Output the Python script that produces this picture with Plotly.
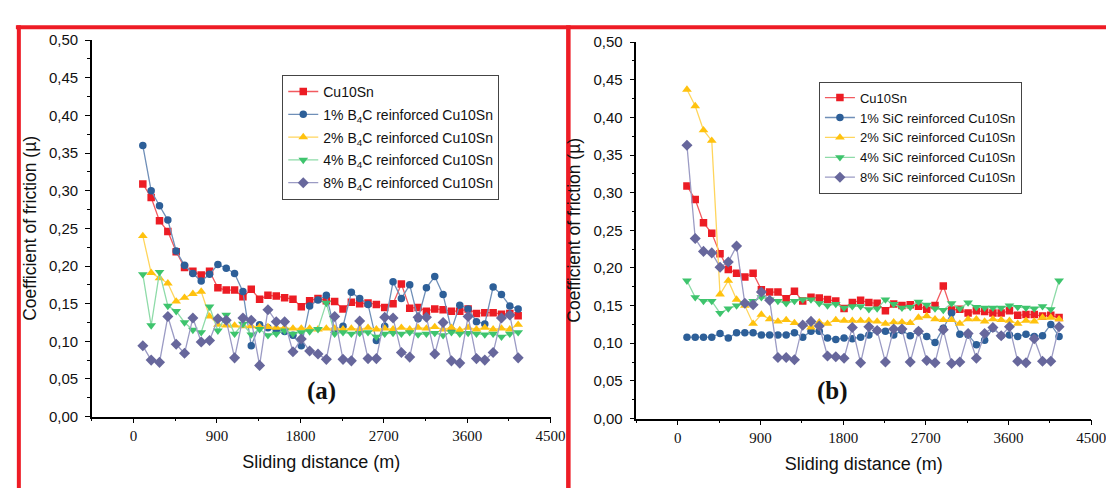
import plotly.graph_objects as go

# ---------------- data ----------------
distance = [100, 190, 280, 370, 460, 550, 640, 730, 820, 910, 1000, 1090, 1180, 1270,
            1360, 1450, 1540, 1630, 1720, 1810, 1900, 1990, 2080, 2170, 2260, 2350,
            2440, 2530, 2620, 2710, 2800, 2890, 2980, 3070, 3160, 3250, 3340, 3430,
            3520, 3610, 3700, 3790, 3880, 3970, 4060, 4150]

cu10sn = [0.309, 0.291, 0.260, 0.246, 0.219, 0.198, 0.193, 0.188, 0.193, 0.171,
          0.168, 0.168, 0.159, 0.169, 0.156, 0.161, 0.160, 0.158, 0.156, 0.146,
          0.154, 0.157, 0.154, 0.153, 0.143, 0.152, 0.150, 0.151, 0.149, 0.145,
          0.150, 0.176, 0.144, 0.145, 0.140, 0.143, 0.142, 0.140, 0.140, 0.143,
          0.137, 0.138, 0.138, 0.136, 0.137, 0.134]

b4c_1 = [0.360, 0.300, 0.280, 0.261, 0.220, 0.201, 0.190, 0.180, 0.189, 0.202,
         0.197, 0.190, 0.166, 0.094, 0.122, 0.118, 0.115, 0.113, 0.108, 0.094,
         0.147, 0.155, 0.161, 0.115, 0.120, 0.165, 0.157, 0.149, 0.101, 0.120,
         0.179, 0.157, 0.175, 0.130, 0.171, 0.186, 0.162, 0.115, 0.148, 0.143,
         0.126, 0.123, 0.172, 0.162, 0.147, 0.143]

b4c_2 = [0.240, 0.191, 0.184, 0.177, 0.153, 0.158, 0.163, 0.166, 0.133, 0.122,
         0.121, 0.121, 0.120, 0.120, 0.119, 0.119, 0.118, 0.118, 0.117, 0.117,
         0.117, 0.116, 0.117, 0.117, 0.116, 0.117, 0.116, 0.118, 0.116, 0.117,
         0.116, 0.118, 0.116, 0.118, 0.117, 0.119, 0.116, 0.118, 0.115, 0.118,
         0.116, 0.118, 0.116, 0.117, 0.116, 0.122]

b4c_4 = [0.189, 0.121, 0.192, 0.147, 0.140, 0.125, 0.115, 0.112, 0.146, 0.114,
         0.135, 0.110, 0.123, 0.109, 0.116, 0.108, 0.110, 0.114, 0.110, 0.112,
         0.113, 0.116, 0.151, 0.110, 0.112, 0.110, 0.111, 0.112, 0.106, 0.110,
         0.111, 0.110, 0.112, 0.109, 0.110, 0.111, 0.108, 0.112, 0.110, 0.111,
         0.110, 0.109, 0.110, 0.106, 0.110, 0.112]

b4c_8 = [0.094, 0.075, 0.072, 0.133, 0.096, 0.084, 0.131, 0.099, 0.101, 0.130,
         0.128, 0.078, 0.131, 0.128, 0.068, 0.142, 0.126, 0.126, 0.086, 0.103,
         0.087, 0.083, 0.076, 0.133, 0.076, 0.074, 0.127, 0.077, 0.077, 0.132,
         0.131, 0.085, 0.079, 0.132, 0.132, 0.083, 0.125, 0.074, 0.071, 0.133,
         0.077, 0.075, 0.085, 0.131, 0.135, 0.078]

sic_1 = [0.108, 0.108, 0.108, 0.108, 0.113, 0.107, 0.114, 0.114, 0.114, 0.111,
         0.111, 0.111, 0.111, 0.114, 0.108, 0.116, 0.116, 0.107, 0.105, 0.107,
         0.106, 0.108, 0.111, 0.117, 0.116, 0.111, 0.117, 0.110, 0.116, 0.109,
         0.101, 0.120, 0.140, 0.112, 0.111, 0.098, 0.104, 0.120, 0.110, 0.111,
         0.109, 0.112, 0.109, 0.110, 0.125, 0.109]

sic_2 = [0.437, 0.415, 0.383, 0.369, 0.165, 0.183, 0.158, 0.150, 0.126, 0.138,
         0.132, 0.129, 0.131, 0.127, 0.125, 0.121, 0.128, 0.126, 0.131, 0.130,
         0.130, 0.130, 0.130, 0.129, 0.126, 0.128, 0.128, 0.127, 0.134, 0.136,
         0.132, 0.131, 0.131, 0.126, 0.132, 0.132, 0.129, 0.132, 0.131, 0.130,
         0.126, 0.130, 0.129, 0.134, 0.134, 0.132]

sic_4 = [0.183, 0.161, 0.156, 0.156, 0.140, 0.146, 0.150, 0.153, 0.156, 0.161,
         0.158, 0.156, 0.153, 0.156, 0.158, 0.158, 0.153, 0.150, 0.152, 0.147,
         0.149, 0.149, 0.145, 0.146, 0.158, 0.152, 0.147, 0.148, 0.155, 0.151,
         0.146, 0.144, 0.153, 0.146, 0.154, 0.148, 0.147, 0.147, 0.147, 0.150,
         0.148, 0.147, 0.146, 0.149, 0.145, 0.183]

sic_8 = [0.363, 0.239, 0.222, 0.220, 0.201, 0.208, 0.229, 0.153, 0.151, 0.168,
         0.157, 0.081, 0.081, 0.078, 0.124, 0.129, 0.123, 0.083, 0.082, 0.080,
         0.121, 0.074, 0.122, 0.117, 0.075, 0.119, 0.119, 0.075, 0.116, 0.077,
         0.074, 0.118, 0.073, 0.075, 0.113, 0.080, 0.113, 0.121, 0.110, 0.122,
         0.076, 0.074, 0.106, 0.076, 0.076, 0.122]

names_a = ["Cu10Sn",
           "1% B<sub>4</sub>C reinforced Cu10Sn",
           "2% B<sub>4</sub>C reinforced Cu10Sn",
           "4% B<sub>4</sub>C reinforced Cu10Sn",
           "8% B<sub>4</sub>C reinforced Cu10Sn"]
names_b = ["Cu10Sn",
           "1% SiC reinforced Cu10Sn",
           "2% SiC reinforced Cu10Sn",
           "4% SiC reinforced Cu10Sn",
           "8% SiC reinforced Cu10Sn"]

x_ticks = [0, 900, 1800, 2700, 3600, 4500]

# ---------------- styles ----------------
W, H = 1114, 488
marker_colors = ["#ec1c24", "#2d5f98", "#ffc20e", "#3ec46d", "#67679c"]
line_colors = ["#f25a5f", "#6f8fb8", "#ffd55c", "#8edba8", "#9b9bc4"]
symbols = ["square", "circle", "triangle-up", "triangle-down", "diamond"]
sizes = [7.5, 7.5, 8.5, 8.5, 8.5]

fig = go.Figure()

series_a = [cu10sn, b4c_1, b4c_2, b4c_4, b4c_8]
series_b = [cu10sn, sic_1, sic_2, sic_4, sic_8]

for k, (vals, nm) in enumerate(zip(series_a, names_a)):
    fig.add_trace(go.Scatter(
        x=distance, y=vals, name=nm, mode="lines+markers",
        line=dict(color=line_colors[k], width=1.3),
        marker=dict(symbol=symbols[k], size=sizes[k], color=marker_colors[k],
                    line=dict(width=0)),
        xaxis="x", yaxis="y", legend="legend", legendgroup=f"a{k}"))

for k, (vals, nm) in enumerate(zip(series_b, names_b)):
    fig.add_trace(go.Scatter(
        x=distance, y=vals, name=nm, mode="lines+markers",
        line=dict(color=line_colors[k], width=1.3),
        marker=dict(symbol=symbols[k], size=sizes[k], color=marker_colors[k],
                    line=dict(width=0)),
        xaxis="x2", yaxis="y2", legend="legend2", legendgroup=f"b{k}"))

def xax(domain):
    return dict(domain=domain, range=[-450, 4500], tickmode="array",
                tickvals=x_ticks, ticks="outside", ticklen=5, tickwidth=1.2,
                tickcolor="black", showline=True, linecolor="black", linewidth=1.5,
                showgrid=False, zeroline=False,
                minor=dict(dtick=450, tick0=0, ticks="outside", ticklen=3,
                           tickcolor="black", tickwidth=1.2),
                tickfont=dict(family="Liberation Serif", size=15, color="#111"),
                title=dict(text="Sliding distance (m)", standoff=12,
                           font=dict(family="Liberation Sans", size=18, color="#111")))

def yax(domain, anchor):
    return dict(domain=domain, range=[0, 0.5], dtick=0.05, tick0=0,
                tickformat=".2f", ticks="outside", ticklen=5, tickwidth=1.2,
                tickcolor="black", showline=True, linecolor="black", linewidth=1.5,
                showgrid=False, zeroline=False, anchor=anchor,
                ticklabelstandoff=4,
                minor=dict(dtick=0.025, ticks="outside", ticklen=3,
                           tickcolor="black", tickwidth=1.2),
                tickfont=dict(family="Liberation Sans", size=15, color="#111"),
                title=dict(text="Coefficient of friction (µ)", standoff=8,
                           font=dict(family="Liberation Sans", size=17.5, color="#111")))

fig.update_layout(
    width=W, height=H, margin=dict(l=0, r=0, t=0, b=0),
    paper_bgcolor="white", plot_bgcolor="white",
    separators=", ",
    xaxis=dict(xax([85 / W, 550 / W]), anchor="y"),
    yaxis=yax([1 - 414 / H, 1 - 24 / H], "x"),
    xaxis2=dict(xax([637 / W, 1098 / W]), anchor="y2"),
    yaxis2=yax([1 - 416 / H, 1 - 26 / H], "x2"),
    legend=dict(x=278 / W, y=1 - 60 / H, xanchor="left", yanchor="top",
                bordercolor="#444", borderwidth=1, bgcolor="white",
                tracegroupgap=1.6, traceorder="grouped",
                font=dict(family="Liberation Sans", size=14, color="#111")),
    legend2=dict(x=822 / W, y=1 - 67 / H, xanchor="left", yanchor="top",
                 bordercolor="#444", borderwidth=1, bgcolor="white",
                 tracegroupgap=0, traceorder="normal",
                 font=dict(family="Liberation Sans", size=13, color="#111")),
    annotations=[
        dict(text="<b>(a)</b>", x=301 / W, y=1 - 404 / H, xref="paper", yref="paper",
             showarrow=False, font=dict(family="Liberation Serif", size=25, color="#111")),
        dict(text="<b>(b)</b>", x=853 / W, y=1 - 404 / H, xref="paper", yref="paper",
             showarrow=False, font=dict(family="Liberation Serif", size=25, color="#111")),
    ],
    shapes=[
        dict(type="line", xref="paper", yref="paper", x0=8 / W, x1=1,
             y0=1 - 10.5 / H, y1=1 - 10.5 / H, line=dict(color="#ee1c25", width=4)),
        dict(type="line", xref="paper", yref="paper", x0=11 / W, x1=11 / W,
             y0=0, y1=1 - 8.5 / H, line=dict(color="#ee1c25", width=4)),
        dict(type="line", xref="paper", yref="paper", x0=568 / W, x1=568 / W,
             y0=0, y1=1 - 8.5 / H, line=dict(color="#ee1c25", width=4.5)),
    ],
    showlegend=True,
)

fig.write_html("out.html")
